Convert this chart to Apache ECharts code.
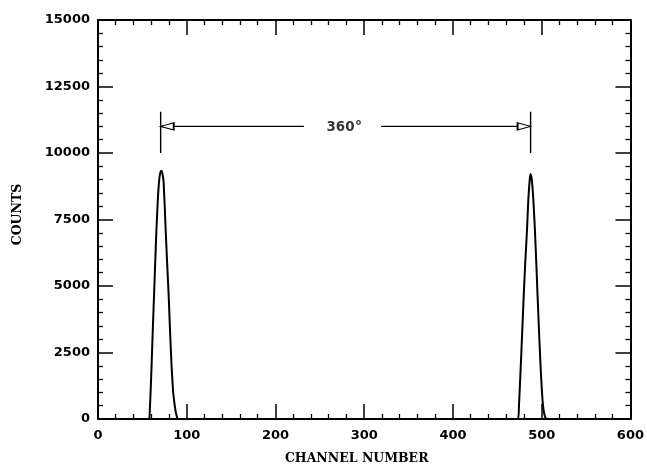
<!DOCTYPE html>
<html>
<head>
<meta charset="utf-8">
<script src="https://cdn.jsdelivr.net/npm/echarts@6/dist/echarts.min.js"></script>
<style>
  html, body { margin: 0; padding: 0; background: #fff; }
  #chart { width: 647px; height: 470px; }
</style>
</head>
<body>
<div id="chart"></div>
<script>
// ---- Data ----
const xTicks = [0, 100, 200, 300, 400, 500, 600];
const yTicks = [0, 2500, 5000, 7500, 10000, 12500, 15000];

// Peak 1 (channel, counts)
const peak1Channels = [57.5, 58.3, 59.5, 60.5, 62, 63.1, 64.5, 65.8, 67.5, 69, 70.5, 71.4, 72.5, 74, 76.3, 78, 79.7, 81.2, 82.7, 84.5, 86.4, 88, 90.1];
const peak1Counts   = [0, 270, 1200, 2130, 3600, 4600, 5900, 7080, 8300, 9000, 9300, 9330, 9250, 8900, 7080, 5800, 4600, 3300, 2130, 1100, 520, 200, 0];

// Peak 2 (channel, counts)
const peak2Channels = [473.2, 474.4, 475.5, 476.6, 478.2, 479.7, 481.5, 483.4, 485, 486.5, 487.5, 488.7, 490.5, 492.4, 494, 495.4, 497, 498.5, 500, 501.4, 503, 505.2];
const peak2Counts   = [0, 520, 1300, 2130, 3400, 4600, 5900, 7080, 8300, 9000, 9210, 9050, 8300, 7080, 5800, 4600, 3300, 2130, 1200, 520, 180, 0];

// Baseline ends
const baseStart = [0, 0];
const baseEnd = [600, 0];

// Annotation: 360 degree separation between peaks
const markerChannels = [70.6, 487.5];       // vertical marker lines
const markerCountRange = [10000, 11550];    // vertical extent
const arrowCount = 11000;                   // height of the arrow
const arrowLeftSegment = [70.6, 232];       // left arrow shaft (channels)
const arrowRightSegment = [319, 487.5];     // right arrow shaft (channels)
const arrowHeadCenters = [78, 480.2];       // arrow head centres (channels)
const labelText = '360';
const labelPos = [277, 10950];

// ---- Build series ----
const curve = [baseStart];
peak1Channels.forEach((c, i) => curve.push([c, peak1Counts[i]]));
peak2Channels.forEach((c, i) => curve.push([c, peak2Counts[i]]));
curve.push(baseEnd);

const annLines = [
  [[markerChannels[0], markerCountRange[0]], [markerChannels[0], markerCountRange[1]]],
  [[markerChannels[1], markerCountRange[0]], [markerChannels[1], markerCountRange[1]]],
  [[arrowLeftSegment[0], arrowCount], [arrowLeftSegment[1], arrowCount]],
  [[arrowRightSegment[0], arrowCount], [arrowRightSegment[1], arrowCount]]
];

const tickFont = { fontFamily: 'DejaVu Sans', fontWeight: 'bold', fontSize: 13, color: '#000' };
const nameFont = { fontFamily: 'DejaVu Serif', fontWeight: 'bold', fontSize: 12.5, color: '#000' };
const axisLine = { show: true, onZero: false, lineStyle: { color: '#000', width: 2 } };
const tick = { show: true, inside: true, length: 15, lineStyle: { color: '#000', width: 1.5 } };
const minor = { show: true, splitNumber: 5, length: 5, lineStyle: { color: '#000', width: 1.3 } };
const plainNum = v => String(v);

const series = [];
series.push({
  type: 'line', data: curve, showSymbol: false, smooth: 0.12,
  lineStyle: { color: '#000', width: 2 }, z: 3, silent: true
});
annLines.forEach(seg => series.push({
  type: 'line', data: seg, showSymbol: false,
  lineStyle: { color: '#000', width: 1.4 }, z: 3, silent: true
}));
series.push({
  type: 'scatter', symbol: 'triangle', symbolSize: [7, 13], symbolRotate: 90,
  data: [[arrowHeadCenters[0], arrowCount]],
  itemStyle: { color: '#fff', borderColor: '#000', borderWidth: 1.4, opacity: 1 }, z: 5, silent: true
});
series.push({
  type: 'scatter', symbol: 'triangle', symbolSize: [7, 13], symbolRotate: -90,
  data: [[arrowHeadCenters[1], arrowCount]],
  itemStyle: { color: '#fff', borderColor: '#000', borderWidth: 1.4, opacity: 1 }, z: 5, silent: true
});
series.push({
  type: 'scatter', symbolSize: 0, data: [labelPos], z: 6, silent: true,
  label: {
    show: true, position: 'inside',
    formatter: '{a|' + labelText + '}{b|o}',
    rich: {
      a: { fontFamily: 'DejaVu Sans', fontWeight: 'bold', fontSize: 13.5, color: '#000' },
      b: { fontFamily: 'DejaVu Sans', fontWeight: 'bold', fontSize: 8, color: '#000', padding: [0, 0, 9, 1] }
    }
  }
});

const chart = echarts.init(document.getElementById('chart'), null, { renderer: 'canvas' });
chart.setOption({
  animation: false,
  backgroundColor: '#fff',
  grid: { left: 98, right: 16, top: 20, bottom: 46, containLabel: false },
  xAxis: [{
    type: 'value', min: xTicks[0], max: xTicks[xTicks.length - 1], interval: 100,
    position: 'bottom',
    name: 'CHANNEL NUMBER', nameLocation: 'middle', nameGap: 33,
    nameTextStyle: Object.assign({ padding: [0, 15, 0, 0] }, nameFont),
    axisLine: axisLine, axisTick: tick, minorTick: minor,
    splitLine: { show: false },
    axisLabel: Object.assign({ margin: 10, showMinLabel: true, showMaxLabel: true, formatter: plainNum }, tickFont)
  }, {
    type: 'value', min: xTicks[0], max: xTicks[xTicks.length - 1], interval: 100,
    position: 'top',
    axisLine: axisLine, axisTick: tick, minorTick: minor,
    splitLine: { show: false }, axisLabel: { show: false }
  }],
  yAxis: [{
    type: 'value', min: yTicks[0], max: yTicks[yTicks.length - 1], interval: 2500,
    position: 'left',
    name: 'COUNTS', nameLocation: 'middle', nameGap: 74,
    nameTextStyle: Object.assign({ padding: [0, 0, 0, 10] }, nameFont),
    axisLine: axisLine, axisTick: tick, minorTick: minor,
    splitLine: { show: false },
    axisLabel: Object.assign({ margin: 8, showMinLabel: true, showMaxLabel: true, formatter: plainNum }, tickFont)
  }, {
    type: 'value', min: yTicks[0], max: yTicks[yTicks.length - 1], interval: 2500,
    position: 'right',
    axisLine: axisLine, axisTick: tick, minorTick: minor,
    splitLine: { show: false }, axisLabel: { show: false }
  }],
  series: series
});
</script>
</body>
</html>
